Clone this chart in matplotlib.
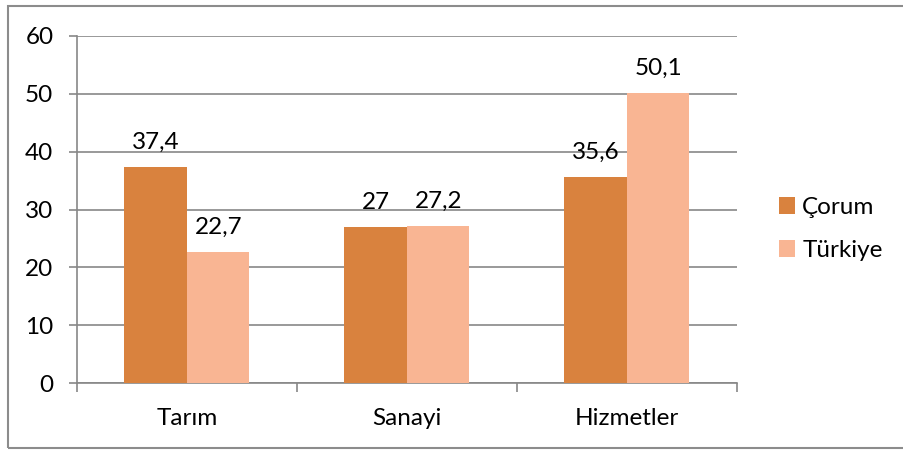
import matplotlib
matplotlib.use("Agg")
import matplotlib.pyplot as plt
from matplotlib.patches import Patch, Rectangle
import numpy as np

categories = ["Tarım", "Sanayi", "Hizmetler"]
corum = [37.4, 27, 35.6]
turkiye = [22.7, 27.2, 50.1]
corum_labels = ["37,4", "27", "35,6"]
turkiye_labels = ["22,7", "27,2", "50,1"]
series_names = ["Çorum", "Türkiye"]
yticks = [0, 10, 20, 30, 40, 50, 60]

plt.rcParams['font.family'] = ['Lato', 'DejaVu Sans']
c1 = "#D9823E"
c2 = "#F9B593"
grid = "#878787"

fig = plt.figure(figsize=(9.04, 4.51), dpi=100)
W, H = 904, 451
ax = fig.add_axes([77 / W, 1 - 383 / H, 660 / W, 347 / H])

x = np.arange(len(categories))
bw = 62.5 / 220
b1 = ax.bar(x - bw / 2, corum, bw, color=c1, zorder=3)
b2 = ax.bar(x + bw / 2, turkiye, bw, color=c2, zorder=3)

fs = 17.5
for bars, labs in ((b1, corum_labels), (b2, turkiye_labels)):
    for r, t in zip(bars, labs):
        ax.annotate(t, (r.get_x() + r.get_width() / 2, r.get_height()),
                    xytext=(0, 13), textcoords="offset points",
                    ha="center", va="baseline", fontsize=fs, color="black")

ax.set_xlim(-0.5, len(categories) - 0.5)
ax.set_ylim(0, 60)
ax.set_yticks(yticks)
ax.set_yticklabels([str(v) for v in yticks])
ax.yaxis.grid(True, color=grid, linewidth=1.2, zorder=0)
ax.set_axisbelow(True)

ax.set_xticks(x)
ax.set_xticklabels(categories)
ax.set_xticks(np.arange(len(categories) + 1) - 0.5, minor=True)
ax.tick_params(axis="x", which="major", length=0, pad=18, labelsize=fs)
ax.tick_params(axis="x", which="minor", length=6.5, width=1.2, color=grid, direction="out")
ax.tick_params(axis="y", which="major", length=6, width=1.2, color=grid, pad=11, labelsize=fs)

for s in ("top", "right"):
    ax.spines[s].set_visible(False)
for s in ("left", "bottom"):
    ax.spines[s].set_color(grid)
    ax.spines[s].set_linewidth(1.2)

handles = [Patch(facecolor=c1, edgecolor="none"), Patch(facecolor=c2, edgecolor="none")]
fig.legend(handles, series_names, loc="center left",
           bbox_to_anchor=(779 / W, 1 - 229 / H), bbox_transform=fig.transFigure,
           frameon=False, fontsize=fs, handlelength=0.66, handleheight=0.66,
           handletextpad=0.3, labelspacing=0.9, borderpad=0, borderaxespad=0)

fig.patches.append(Rectangle((8 / W, 1 - 448 / H), 1.05, (448 - 6) / H,
                             transform=fig.transFigure, fill=False,
                             edgecolor="#8C8C8C", linewidth=1.5))

fig.savefig("out.png", dpi=100)
